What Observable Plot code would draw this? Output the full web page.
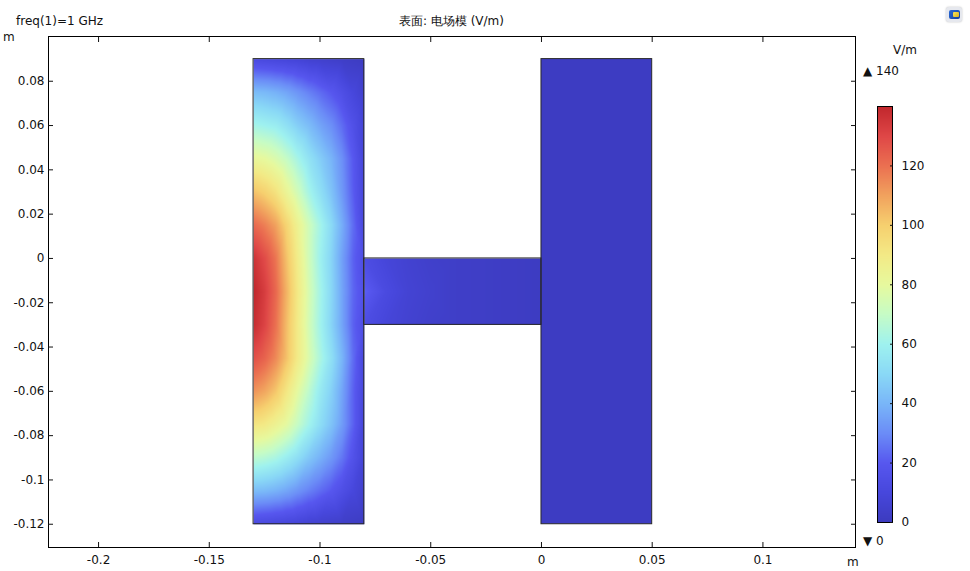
<!DOCTYPE html>
<html><head><meta charset="utf-8">
<script src="https://cdn.jsdelivr.net/npm/d3@7"></script>
<script src="https://cdn.jsdelivr.net/npm/@observablehq/plot@0.6"></script>
<style>
body{margin:0;background:#fff;font-family:"DejaVu Sans",sans-serif;}
#wrap{position:relative;width:970px;height:571px;overflow:hidden;}
#wrap svg{position:absolute;overflow:visible;}
.lbl{position:absolute;font-size:12px;line-height:14px;color:#111;white-space:nowrap;}
</style></head><body><div id="wrap"></div>
<script>
// ---- data ----
const xTicks = [-0.2, -0.15, -0.1, -0.05, 0, 0.05, 0.1];
const yTicks = [0.08, 0.06, 0.04, 0.02, 0, -0.02, -0.04, -0.06, -0.08, -0.1, -0.12];
const colorbarTicks = [0, 20, 40, 60, 80, 100, 120];
const fieldMax = 140, fieldMin = 0;

// geometry: rectangles (m)
const domains = [
  {name: "left",   x1: -0.13, x2: -0.08, y1: -0.12, y2: 0.09},
  {name: "bridge", x1: -0.08, x2: 0,     y1: -0.03, y2: 0},
  {name: "right",  x1: 0,     x2: 0.05,  y1: -0.12, y2: 0.09}
];

// |E| (V/m) samples, left block
const leftXs = [-0.13, -0.125, -0.12, -0.115, -0.11, -0.105, -0.1, -0.095, -0.09, -0.085, -0.08];
const leftYs = [0.09, 0.075, 0.06, 0.045, 0.03, 0.015, 0, -0.015, -0.03, -0.045, -0.06, -0.075, -0.09, -0.105, -0.12];
const leftField = [
  [12, 11, 10, 9, 8, 6, 5, 4, 3, 2, 1],
  [42, 41, 39, 36, 32, 28, 24, 20, 15, 10, 5],
  [62, 60, 58, 53, 47, 42, 36, 31, 24, 16, 8],
  [82, 80, 76, 70, 62, 54, 47, 40, 31, 20, 9],
  [103, 99, 93, 83, 73, 62, 53, 44, 33, 21, 10],
  [122, 117, 110, 98, 85, 73, 62, 51, 38, 24, 11],
  [136, 129, 119, 103, 88, 73, 60, 49, 35, 22, 14],
  [140, 133, 122, 106, 90, 75, 62, 50, 36, 23, 16],
  [138, 131, 120, 104, 89, 74, 61, 49, 36, 22, 14],
  [128, 123, 115, 103, 89, 76, 64, 53, 40, 24, 10],
  [113, 109, 102, 91, 79, 68, 57, 48, 36, 22, 10],
  [92, 90, 85, 79, 70, 61, 52, 44, 34, 22, 9],
  [68, 66, 63, 58, 52, 45, 39, 33, 26, 17, 8],
  [42, 41, 39, 36, 32, 28, 24, 20, 15, 10, 5],
  [12, 11, 10, 9, 8, 6, 5, 4, 3, 2, 1]
];
// bridge
const bridgeXs = [-0.08, -0.07, -0.06, -0.05, -0.04, -0.02, 0];
const bridgeYs = [0, -0.015, -0.03];
const bridgeField = [
  [14, 9, 6, 4, 3, 2, 1],
  [22, 12, 7, 5, 3, 2, 1],
  [14, 9, 6, 4, 3, 2, 1]
];
// right block (uniform)
const rightField = 1;

// colour table
const colorStops = [0, 10, 20, 30, 40, 50, 60, 70, 80, 90, 100, 110, 120, 130, 140];
const colorRamp = ["#3c3bbf", "#4747dc", "#5757ef", "#6b8cf7", "#79b6f8", "#8ad9f6", "#9ff2ef", "#c6fcc6",
                   "#e7f99e", "#f3ea86", "#f6d06f", "#f1a25e", "#eb7051", "#df4747", "#c1272d"];

// ---- build ----
const grid = (xs, ys, vals) => ys.flatMap((y, i) => xs.map((x, j) => ({x, y, v: vals[i][j]})));
const leftPts = grid(leftXs, leftYs, leftField);
const bridgePts = grid(bridgeXs, bridgeYs, bridgeField);
const [L, B, R] = domains;
const colorOpt = {type: "linear", domain: colorStops, range: colorRamp, clamp: true};
const fmt = d => (Math.abs(d) < 1e-9 ? "0" : String(+d.toFixed(3)));

const main = Plot.plot({
  width: 970, height: 571,
  marginLeft: 48, marginRight: 115, marginTop: 36, marginBottom: 24,
  x: {domain: [-0.2226, 0.1418]},
  y: {domain: [-0.1305, 0.1002]},
  color: colorOpt,
  style: {fontFamily: "DejaVu Sans, sans-serif", fontSize: "12px", color: "#111", background: "transparent"},
  marks: [
    Plot.raster(leftPts, {x: "x", y: "y", fill: "v", x1: L.x1, x2: L.x2, y1: L.y1, y2: L.y2, interpolate: "barycentric", pixelSize: 1}),
    Plot.raster(bridgePts, {x: "x", y: "y", fill: "v", x1: B.x1, x2: B.x2, y1: B.y1, y2: B.y2, interpolate: "barycentric", pixelSize: 1}),
    Plot.rect([R], {x1: "x1", x2: "x2", y1: "y1", y2: "y2", fill: () => rightField}),
    Plot.rect(domains, {x1: "x1", x2: "x2", y1: "y1", y2: "y2", fill: "none", stroke: "#2a2a2a", strokeWidth: 1}),
    Plot.frame({stroke: "#000"}),
    Plot.axisX(xTicks, {anchor: "bottom", tickSize: -5, tickPadding: 13, tickFormat: fmt, label: null}),
    Plot.axisX(xTicks, {anchor: "top", tickSize: -5, tickFormat: () => "", label: null}),
    Plot.axisY(yTicks, {anchor: "left", tickSize: -5, tickPadding: 9, tickFormat: fmt, label: null}),
    Plot.axisY(yTicks, {anchor: "right", tickSize: -5, tickFormat: () => "", label: null})
  ]
});
main.style.left = "0px"; main.style.top = "0px";

const bar = Plot.plot({
  width: 100, height: 440,
  marginLeft: 17, marginRight: 68, marginTop: 10, marginBottom: 14,
  x: {domain: [0, 1], axis: null},
  y: {domain: [fieldMin, fieldMax]},
  color: colorOpt,
  style: {fontFamily: "DejaVu Sans, sans-serif", fontSize: "12px", color: "#111", background: "transparent"},
  marks: [
    Plot.raster({x1: 0, x2: 1, y1: fieldMin, y2: fieldMax, fill: (x, y) => y, pixelSize: 1}),
    Plot.frame({stroke: "#000"}),
    Plot.axisY(colorbarTicks, {anchor: "right", tickSize: -3, tickPadding: 12, tickFormat: d => String(d), label: null})
  ]
});
bar.style.left = "860px"; bar.style.top = "96px";

const wrap = document.getElementById("wrap");
wrap.appendChild(main);
wrap.appendChild(bar);

function label(text, left, top, extra) {
  const d = document.createElement("div");
  d.className = "lbl";
  d.textContent = text;
  d.style.left = left + "px"; d.style.top = top + "px";
  if (extra) Object.assign(d.style, extra);
  wrap.appendChild(d);
  return d;
}
label("freq(1)=1 GHz", 16, 14);
label("表面: 电场模 (V/m)", 451.5, 14, {transform: "translateX(-50%)"});
label("m", 3, 30);
label("m", 847, 555);
label("V/m", 893, 43);
label("▲ 140", 863, 64);
label("▼ 0", 863, 534);

// small toolbar icon
const ic = document.createElement("div");
Object.assign(ic.style, {position: "absolute", left: "946px", top: "7px", width: "16px", height: "15px",
  background: "#e6e8ee", borderRadius: "3px", boxShadow: "0 0 2px #bbb"});
const inner = document.createElement("div");
Object.assign(inner.style, {position: "absolute", left: "3px", top: "3px", width: "11px", height: "9px",
  background: "linear-gradient(135deg,#2a6bd8,#123f9c)", borderRadius: "2px"});
const spot = document.createElement("div");
Object.assign(spot.style, {position: "absolute", left: "4px", top: "2px", width: "6px", height: "5px",
  background: "linear-gradient(135deg,#f7e35a,#d9b21e)", borderRadius: "1px"});
inner.appendChild(spot); ic.appendChild(inner); wrap.appendChild(ic);
</script>
</body></html>
